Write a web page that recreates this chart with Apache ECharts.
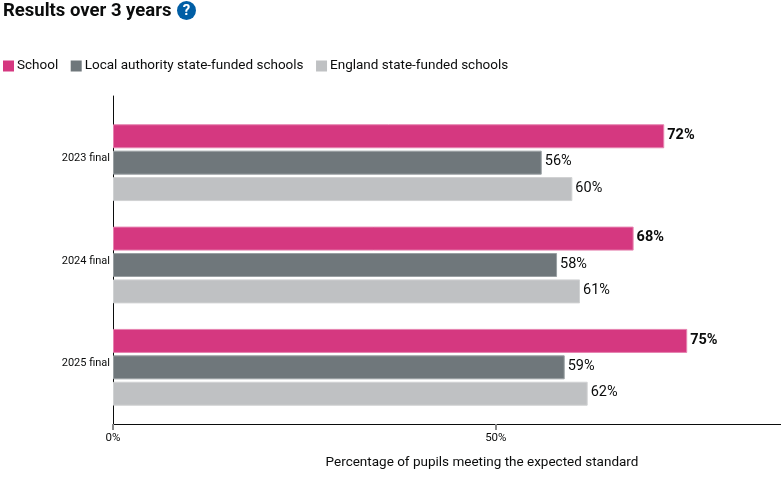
<!DOCTYPE html>
<html><head><meta charset="utf-8">
<style>html,body{margin:0;padding:0;background:#fff}#c{width:781px;height:480px}</style>
<script src="https://cdn.jsdelivr.net/npm/echarts@6/dist/echarts.min.js"></script>
</head><body><div id="c"></div>
<script>
const titleText = 'Results over 3 years';
const categories = ['2023 final','2024 final','2025 final'];
const school = [72,68,75];
const localAuthority = [56,58,59];
const england = [60,61,62];
const xTicks = [0,50];
const axisName = 'Percentage of pupils meeting the expected standard';
const font = 'Roboto, "Noto Sans", sans-serif';
const fmt = p => p.value + '%';
function bar(name, data, color, border, weight){
  return {name, type:'bar', data, xAxisIndex:0, yAxisIndex:0, barWidth:24, barGap:'10%',
    itemStyle:{color, borderColor:border, borderWidth:1},
    label:{show:true, position:'right', distance:3, offset:[0,-1], formatter:fmt, color:'#0b0c0c',
      fontFamily:font, fontSize:14.5, fontWeight:weight},
    animation:false, silent:true};
}
const chart = echarts.init(document.getElementById('c'),null,{renderer:'canvas'});
chart.setOption({
  animation:false, backgroundColor:'#fff',
  title:{text:titleText,left:3,top:0,padding:[2,0,0,0],textStyle:{fontFamily:font,fontSize:18.5,fontWeight:'bold',color:'#0b0c0c'}},
  legend:{left:3,top:59,padding:0,itemWidth:11,itemHeight:11,itemGap:12.5,icon:'rect',
    itemStyle:{borderWidth:0},
    textStyle:{fontFamily:font,fontSize:13.5,color:'#0b0c0c',padding:[0,0,0,-2]},
    data:['School','Local authority state-funded schools','England state-funded schools']},
  grid:[{left:113,right:0,top:111.5,height:307},{left:113,right:0,top:96,height:328}],
  xAxis:[
    {gridIndex:0,type:'value',min:0,max:87.25,show:false},
    {gridIndex:1,type:'value',min:0,max:87.25,interval:50,splitLine:{show:false},
     axisLine:{show:true,onZero:false,lineStyle:{color:'#0b0c0c',width:1}},
     axisTick:{show:true,length:6,customValues:xTicks,lineStyle:{color:'#888',width:2}},
     axisLabel:{customValues:xTicks,formatter:v=>v+'%',fontFamily:font,fontSize:11.5,color:'#0b0c0c',margin:8},
     name:axisName,nameLocation:'middle',nameGap:32,
     nameTextStyle:{fontFamily:font,fontSize:13.5,color:'#0b0c0c',padding:[0,0,0,70]}}
  ],
  yAxis:[
    {gridIndex:0,type:'category',inverse:true,data:categories,
     axisLine:{show:false},axisTick:{show:false},
     axisLabel:{fontFamily:font,fontSize:11,lineHeight:8,color:'#0b0c0c',margin:3,verticalAlign:'bottom'}},
    {gridIndex:1,type:'value',min:0,max:1,axisLabel:{show:false},axisTick:{show:false},splitLine:{show:false},
     axisLine:{show:true,lineStyle:{color:'#0b0c0c',width:1}}}
  ],
  series:[
    bar('School',school,'#d53880','#e683b0','bold'),
    bar('Local authority state-funded schools',localAuthority,'#6f777b','#9aa0a3','normal'),
    bar('England state-funded schools',england,'#bfc1c3','#d0d2d3','normal')
  ],
  graphic:[{type:'group',left:177,top:1,children:[
    {type:'circle',shape:{cx:9.5,cy:9.5,r:9.5},style:{fill:'#005ea5'}},
    {type:'text',style:{text:'?',x:9.5,y:10,align:'center',verticalAlign:'middle',fill:'#fff',fontFamily:font,fontSize:15,fontWeight:'bold'}}
  ]}]
});
</script></body></html>
